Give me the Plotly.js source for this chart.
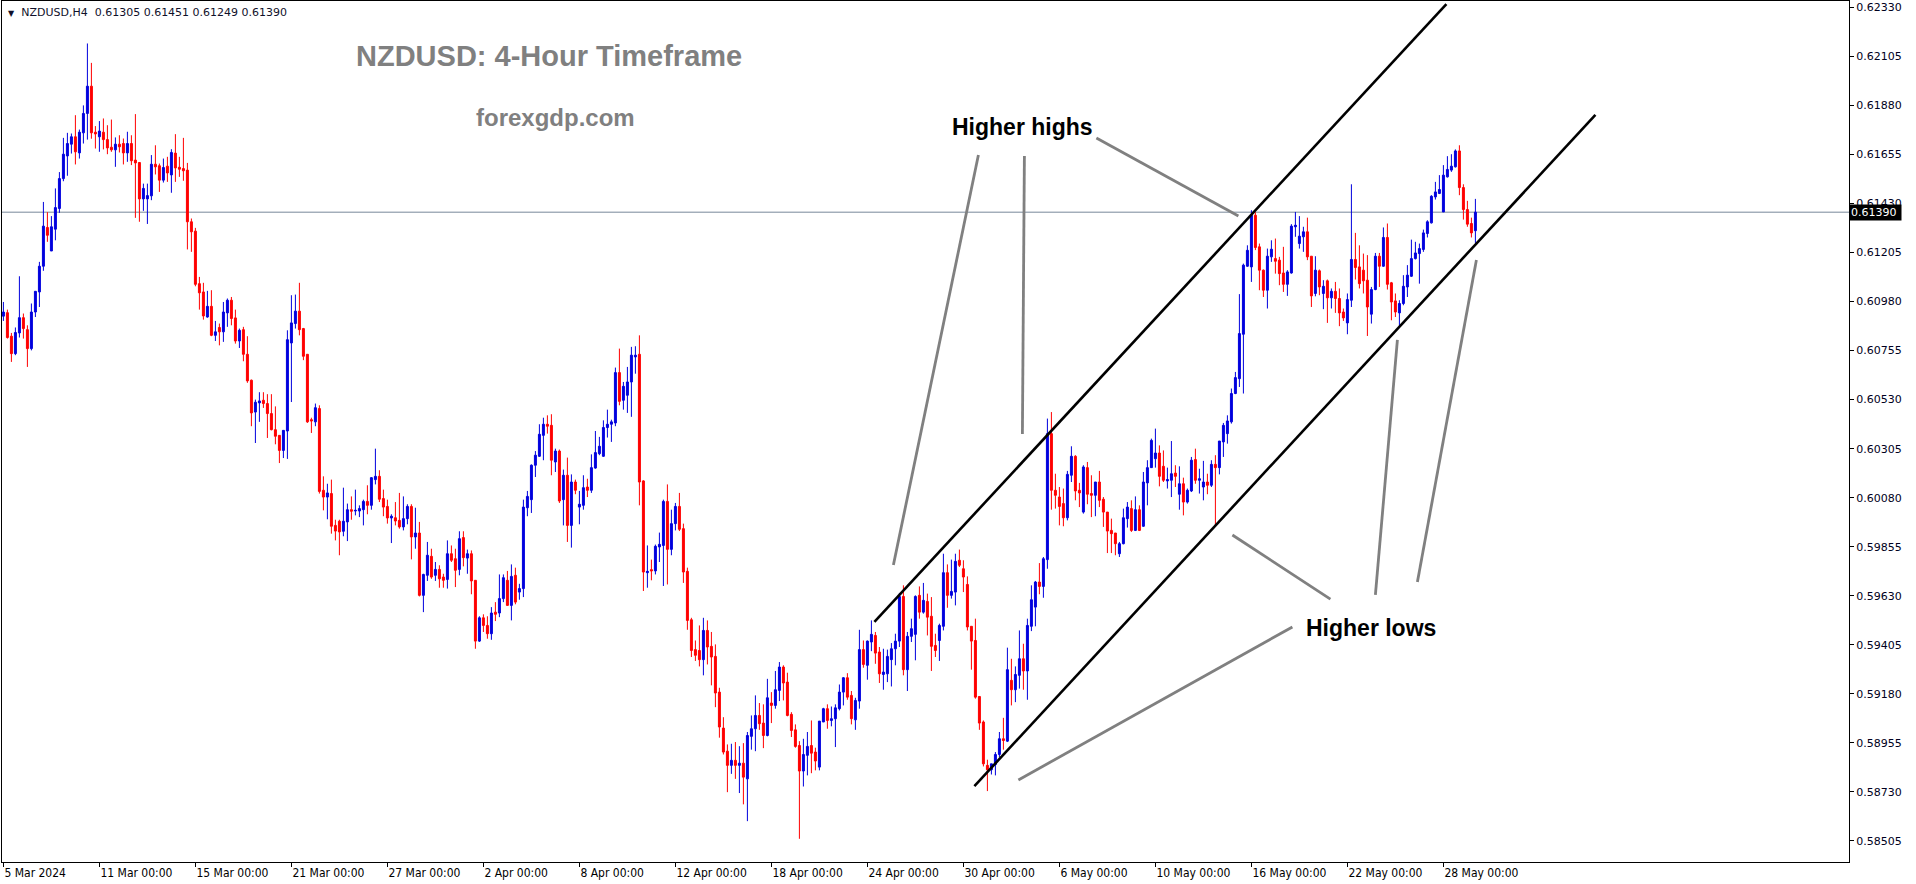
<!DOCTYPE html>
<html>
<head>
<meta charset="utf-8">
<script src="https://cdn.plot.ly/plotly-3.0.1.min.js"></script>
<style>html,body{margin:0;padding:0;background:#fff;}#chart{width:1916px;height:884px;}</style>
</head>
<body>
<div id="chart"></div>
<script>
// NZDUSD H4 candles, 5 Mar 2024 00:00 -> 29 May 2024
const opens = [
0.60913,0.60929,0.60821,0.60741,0.60836,0.60906,0.60851,0.60764,0.60932,0.61024,
0.61142,0.61320,0.61212,0.61312,0.61407,0.61544,0.61648,0.61702,0.61736,0.61662,
0.61754,0.61843,0.61968,0.61757,0.61736,0.61757,0.61723,0.61688,0.61676,0.61702,
0.61705,0.61662,0.61705,0.61629,0.61618,0.61451,0.61451,0.61465,0.61610,0.61603,
0.61537,0.61601,0.61561,0.61661,0.61596,0.61590,0.61583,0.61346,0.61303,0.61062,
0.61024,0.60909,0.60958,0.60825,0.60861,0.60841,0.60928,0.60986,0.60905,0.60799,
0.60851,0.60738,0.60619,0.60473,0.60515,0.60527,0.60512,0.60466,0.60392,0.60366,
0.60297,0.60386,0.60790,0.60879,0.60936,0.60856,0.60738,0.60438,0.60428,0.60489,
0.60114,0.60083,0.60099,0.59953,0.59972,0.59926,0.59969,0.60025,0.60019,0.60019,
0.60025,0.60063,0.60045,0.60163,0.60178,0.60076,0.60040,0.59987,0.59988,0.59976,
0.59946,0.59984,0.60040,0.59900,0.59918,0.59632,0.59724,0.59811,0.59724,0.59751,
0.59716,0.59705,0.59823,0.59800,0.59751,0.59897,0.59803,0.59823,0.59701,0.59422,
0.59529,0.59494,0.59456,0.59555,0.59551,0.59617,0.59701,0.59586,0.59724,0.59647,
0.59663,0.60034,0.60071,0.60229,0.60270,0.60366,0.60417,0.60412,0.60244,0.60294,
0.60071,0.60183,0.59953,0.60152,0.60037,0.60045,0.60129,0.60114,0.60216,0.60282,
0.60270,0.60402,0.60417,0.60423,0.60654,0.60527,0.60550,0.60611,0.60726,0.60738,
0.60157,0.59736,0.59750,0.59744,0.59854,0.59861,0.60063,0.59843,0.59961,0.60040,
0.59938,0.59742,0.59520,0.59383,0.59379,0.59337,0.59471,0.59398,0.59352,0.59188,
0.59023,0.58917,0.58852,0.58875,0.58852,0.58862,0.58790,0.58985,0.59020,0.59081,
0.59046,0.58989,0.59138,0.59127,0.59196,0.59303,0.59234,0.59086,0.59015,0.58943,
0.58826,0.58898,0.58943,0.58913,0.58844,0.59051,0.59112,0.59058,0.59066,0.59112,
0.59188,0.59254,0.59173,0.59061,0.59147,0.59383,0.59311,0.59418,0.59448,0.59372,
0.59269,0.59272,0.59337,0.59387,0.59422,0.59627,0.59291,0.59444,0.59453,0.59632,
0.59555,0.59604,0.59536,0.59402,0.59425,0.59490,0.59736,0.59632,0.59647,0.59793,
0.59754,0.59682,0.59490,0.59425,0.59168,0.59051,0.58852,0.58832,0.58856,0.58902,
0.58974,0.58963,0.59242,0.59199,0.59265,0.59341,0.59285,0.59490,0.59578,0.59693,
0.59673,0.59796,0.60374,0.60114,0.60083,0.60053,0.59988,0.60183,0.60270,0.60114,
0.60014,0.60218,0.60099,0.60091,0.60152,0.60073,0.60014,0.59930,0.59918,0.59823,
0.59869,0.59984,0.60030,0.59930,0.60025,0.59949,0.60148,0.60218,0.60259,0.60285,
0.60224,0.60157,0.60160,0.60193,0.60096,0.60144,0.60060,0.60111,0.60255,0.60160,
0.60129,0.60152,0.60137,0.60233,0.60218,0.60336,0.60374,0.60428,0.60558,0.60626,
0.60830,0.61142,0.61139,0.61376,0.61231,0.61124,0.61032,0.61185,0.61177,0.61170,
0.61111,0.61059,0.61111,0.61323,0.61246,0.61277,0.61300,0.61188,0.61017,0.61121,
0.61017,0.61075,0.60997,0.61027,0.60994,0.60932,0.60882,0.60986,0.61173,0.61139,
0.61124,0.61078,0.60922,0.61035,0.61188,0.61142,0.61274,0.61066,0.60983,0.60928,
0.60971,0.61047,0.61096,0.61177,0.61200,0.61219,0.61292,0.61341,0.61460,0.61476,
0.61391,0.61552,0.61583,0.61598,0.61671,0.61503,0.61402,0.61338,0.61305
];
const highs = [
0.60978,0.60943,0.60836,0.60861,0.61096,0.60925,0.60871,0.60971,0.61027,0.61162,
0.61437,0.61390,0.61372,0.61499,0.61574,0.61731,0.61754,0.61751,0.61835,0.61769,
0.61880,0.62164,0.62075,0.61785,0.61808,0.61820,0.61789,0.61815,0.61733,0.61743,
0.61728,0.61759,0.61743,0.61840,0.61618,0.61521,0.61521,0.61652,0.61697,0.61613,
0.61636,0.61644,0.61679,0.61748,0.61644,0.61731,0.61616,0.61361,0.61318,0.61093,
0.61066,0.61029,0.61032,0.60891,0.60879,0.60978,0.60994,0.61001,0.60943,0.60856,
0.60864,0.60821,0.60622,0.60530,0.60564,0.60564,0.60555,0.60555,0.60499,0.60366,
0.60389,0.60848,0.61009,0.61012,0.61066,0.60859,0.60738,0.60447,0.60512,0.60504,
0.60178,0.60144,0.60163,0.59979,0.59979,0.60126,0.60053,0.60086,0.60117,0.60045,
0.60071,0.60137,0.60175,0.60305,0.60206,0.60117,0.60071,0.60004,0.60060,0.60102,
0.60086,0.60050,0.60050,0.60034,0.59969,0.59731,0.59877,0.59846,0.59785,0.59770,
0.59731,0.59884,0.59861,0.59846,0.59926,0.59926,0.59842,0.59838,0.59701,0.59536,
0.59545,0.59536,0.59578,0.59601,0.59728,0.59728,0.59744,0.59774,0.59759,0.59685,
0.60071,0.60111,0.60233,0.60294,0.60417,0.60447,0.60458,0.60463,0.60305,0.60301,
0.60209,0.60264,0.60187,0.60163,0.60111,0.60183,0.60167,0.60279,0.60386,0.60359,
0.60435,0.60484,0.60438,0.60677,0.60764,0.60611,0.60680,0.60772,0.60775,0.60825,
0.60160,0.59861,0.59796,0.59865,0.59920,0.60071,0.60141,0.60025,0.60056,0.60102,
0.59961,0.59759,0.59529,0.59425,0.59494,0.59529,0.59517,0.59464,0.59407,0.59208,
0.59073,0.58948,0.58951,0.58959,0.58940,0.58954,0.59005,0.59081,0.59173,0.59138,
0.59132,0.59249,0.59188,0.59285,0.59326,0.59311,0.59277,0.59096,0.59040,0.58963,
0.58974,0.59005,0.59058,0.58933,0.59055,0.59116,0.59132,0.59122,0.59132,0.59223,
0.59257,0.59275,0.59193,0.59162,0.59474,0.59425,0.59425,0.59517,0.59464,0.59395,
0.59387,0.59383,0.59413,0.59456,0.59643,0.59678,0.59464,0.59525,0.59632,0.59673,
0.59689,0.59640,0.59624,0.59456,0.59502,0.59823,0.59774,0.59796,0.59823,0.59842,
0.59793,0.59719,0.59490,0.59525,0.59168,0.59058,0.58878,0.58859,0.58913,0.59005,
0.59070,0.59392,0.59341,0.59306,0.59471,0.59410,0.59525,0.59678,0.59698,0.59780,
0.59808,0.60443,0.60473,0.60190,0.60129,0.60122,0.60203,0.60316,0.60275,0.60148,
0.60229,0.60244,0.60183,0.60152,0.60203,0.60083,0.60014,0.59984,0.59918,0.59877,
0.60030,0.60060,0.60068,0.60086,0.60045,0.60198,0.60252,0.60351,0.60397,0.60320,
0.60297,0.60218,0.60340,0.60229,0.60224,0.60172,0.60122,0.60267,0.60305,0.60213,
0.60249,0.60190,0.60252,0.60275,0.60340,0.60423,0.60458,0.60581,0.60657,0.61014,
0.61154,0.61238,0.61399,0.61390,0.61246,0.61127,0.61223,0.61261,0.61269,0.61185,
0.61231,0.61124,0.61335,0.61391,0.61372,0.61323,0.61365,0.61188,0.61188,0.61127,
0.61078,0.61081,0.61040,0.61070,0.61040,0.60948,0.61017,0.61518,0.61295,0.61238,
0.61200,0.61193,0.61047,0.61203,0.61203,0.61320,0.61338,0.61070,0.61017,0.60986,
0.61101,0.61147,0.61264,0.61254,0.61246,0.61310,0.61353,0.61468,0.61529,0.61560,
0.61606,0.61647,0.61656,0.61678,0.61697,0.61518,0.61442,0.61365,0.61451
];
const lows = [
0.60891,0.60810,0.60703,0.60734,0.60815,0.60810,0.60680,0.60756,0.60909,0.60955,
0.61121,0.61254,0.61212,0.61261,0.61387,0.61532,0.61557,0.61659,0.61609,0.61636,
0.61705,0.61723,0.61727,0.61682,0.61667,0.61678,0.61656,0.61667,0.61598,0.61664,
0.61609,0.61621,0.61606,0.61364,0.61346,0.61396,0.61336,0.61445,0.61563,0.61483,
0.61526,0.61529,0.61479,0.61529,0.61552,0.61534,0.61219,0.61208,0.61050,0.60943,
0.60897,0.60906,0.60821,0.60799,0.60779,0.60795,0.60864,0.60871,0.60787,0.60767,
0.60706,0.60607,0.60408,0.60331,0.60428,0.60492,0.60354,0.60389,0.60325,0.60239,
0.60262,0.60258,0.60519,0.60856,0.60825,0.60711,0.60423,0.60377,0.60408,0.60099,
0.60022,0.59981,0.59915,0.59884,0.59816,0.59903,0.59881,0.59979,0.59999,0.59991,
0.59953,0.60004,0.60025,0.60141,0.60060,0.59995,0.59961,0.59872,0.59953,0.59938,
0.59930,0.59958,0.59797,0.59846,0.59627,0.59555,0.59698,0.59708,0.59698,0.59667,
0.59667,0.59663,0.59785,0.59670,0.59724,0.59765,0.59731,0.59637,0.59387,0.59418,
0.59464,0.59433,0.59428,0.59514,0.59532,0.59601,0.59586,0.59517,0.59591,0.59612,
0.59624,0.59995,0.60010,0.60175,0.60267,0.60252,0.60374,0.60183,0.60198,0.60056,
0.59953,0.59877,0.59851,0.60096,0.59958,0.60025,0.60083,0.60102,0.60213,0.60275,
0.60267,0.60356,0.60336,0.60408,0.60504,0.60484,0.60469,0.60451,0.60649,0.60045,
0.59652,0.59667,0.59701,0.59728,0.59785,0.59675,0.59682,0.59816,0.59930,0.59927,
0.59689,0.59474,0.59349,0.59331,0.59306,0.59265,0.59315,0.59219,0.59119,0.58979,
0.58902,0.58729,0.58813,0.58790,0.58725,0.58673,0.58596,0.58924,0.58917,0.59015,
0.58931,0.58985,0.59046,0.59112,0.59147,0.59150,0.59077,0.58982,0.58933,0.58515,
0.58755,0.58806,0.58816,0.58829,0.58829,0.59051,0.59020,0.59031,0.58936,0.59104,
0.59127,0.59153,0.59040,0.59015,0.59112,0.59300,0.59245,0.59376,0.59318,0.59230,
0.59199,0.59234,0.59214,0.59311,0.59395,0.59265,0.59193,0.59418,0.59334,0.59525,
0.59548,0.59448,0.59285,0.59349,0.59331,0.59471,0.59575,0.59617,0.59586,0.59762,
0.59647,0.59471,0.59291,0.59158,0.59015,0.58847,0.58734,0.58810,0.58806,0.58890,
0.58924,0.58959,0.59127,0.59142,0.59204,0.59199,0.59153,0.59468,0.59490,0.59637,
0.59621,0.59754,0.60025,0.60030,0.59953,0.59949,0.59976,0.60152,0.60068,0.60037,
0.60007,0.60050,0.59991,0.59995,0.60037,0.59946,0.59826,0.59826,0.59816,0.59808,
0.59866,0.59943,0.59923,0.59927,0.59927,0.59946,0.60045,0.60218,0.60218,0.60132,
0.60152,0.60122,0.60083,0.60129,0.60025,0.59999,0.60053,0.60106,0.60144,0.60099,
0.60068,0.60096,0.60129,0.59953,0.60187,0.60267,0.60328,0.60420,0.60555,0.60588,
0.60558,0.61139,0.61070,0.61216,0.61032,0.61001,0.60948,0.61162,0.61108,0.61055,
0.61024,0.61006,0.61108,0.61277,0.61223,0.61208,0.61170,0.60955,0.61004,0.61009,
0.60945,0.60882,0.60948,0.60928,0.60867,0.60891,0.60830,0.60955,0.61081,0.61040,
0.61017,0.60822,0.60879,0.61032,0.61047,0.61139,0.61035,0.60894,0.60909,0.60864,
0.60963,0.61001,0.61093,0.61173,0.61062,0.61208,0.61274,0.61338,0.61448,0.61473,
0.61391,0.61549,0.61575,0.61595,0.61468,0.61356,0.61323,0.61274,0.61249
];
const closes = [
0.60932,0.60815,0.60741,0.60838,0.60906,0.60856,0.60764,0.60932,0.61027,0.61142,
0.61326,0.61284,0.61323,0.61411,0.61544,0.61656,0.61705,0.61736,0.61667,0.61757,
0.61843,0.61968,0.61754,0.61749,0.61762,0.61723,0.61685,0.61676,0.61702,0.61690,
0.61662,0.61705,0.61626,0.61616,0.61451,0.61499,0.61466,0.61610,0.61598,0.61537,
0.61595,0.61570,0.61664,0.61593,0.61587,0.61580,0.61346,0.61300,0.61059,0.61020,
0.60914,0.60958,0.60825,0.60841,0.60841,0.60932,0.60986,0.60902,0.60799,0.60848,
0.60738,0.60616,0.60469,0.60518,0.60524,0.60512,0.60466,0.60392,0.60362,0.60297,
0.60389,0.60805,0.60882,0.60936,0.60851,0.60729,0.60428,0.60432,0.60493,0.60109,
0.60083,0.60102,0.59949,0.59927,0.59923,0.59972,0.60025,0.60018,0.60022,0.60030,
0.60063,0.60045,0.60172,0.60178,0.60073,0.60037,0.59987,0.59995,0.59973,0.59946,
0.59984,0.60040,0.59900,0.59918,0.59632,0.59728,0.59816,0.59716,0.59751,0.59708,
0.59701,0.59823,0.59793,0.59747,0.59892,0.59805,0.59823,0.59698,0.59422,0.59529,
0.59494,0.59456,0.59551,0.59545,0.59617,0.59713,0.59586,0.59719,0.59601,0.59663,
0.60037,0.60086,0.60229,0.60275,0.60371,0.60417,0.60408,0.60252,0.60294,0.60065,
0.60183,0.59953,0.60152,0.60114,0.60050,0.60126,0.60114,0.60218,0.60287,0.60316,
0.60402,0.60417,0.60428,0.60654,0.60522,0.60591,0.60611,0.60734,0.60734,0.60152,
0.59739,0.59742,0.59744,0.59857,0.59866,0.60063,0.59843,0.59961,0.60040,0.59935,
0.59739,0.59517,0.59379,0.59357,0.59337,0.59471,0.59395,0.59349,0.59184,0.59028,
0.58913,0.58852,0.58875,0.58852,0.58862,0.58798,0.58989,0.59020,0.59081,0.59043,
0.58989,0.59162,0.59127,0.59199,0.59303,0.59230,0.59081,0.59012,0.58939,0.58826,
0.58902,0.58939,0.58908,0.58872,0.59055,0.59112,0.59058,0.59066,0.59116,0.59188,
0.59254,0.59165,0.59066,0.59150,0.59383,0.59315,0.59422,0.59453,0.59367,0.59272,
0.59280,0.59352,0.59387,0.59422,0.59627,0.59291,0.59444,0.59479,0.59627,0.59555,
0.59609,0.59532,0.59398,0.59379,0.59494,0.59736,0.59632,0.59650,0.59788,0.59770,
0.59716,0.59487,0.59422,0.59165,0.59046,0.58859,0.58832,0.58859,0.58902,0.58974,
0.58966,0.59291,0.59199,0.59269,0.59341,0.59285,0.59494,0.59612,0.59693,0.59673,
0.59800,0.60374,0.60114,0.60091,0.60040,0.59988,0.60187,0.60270,0.60111,0.60102,
0.60221,0.60096,0.60091,0.60152,0.60068,0.60014,0.59927,0.59915,0.59869,0.59869,
0.59988,0.60037,0.59930,0.60025,0.59930,0.60152,0.60218,0.60343,0.60285,0.60178,
0.60160,0.60163,0.60190,0.60178,0.60144,0.60060,0.60114,0.60252,0.60160,0.60167,
0.60152,0.60137,0.60233,0.60218,0.60340,0.60412,0.60432,0.60558,0.60631,0.60833,
0.61147,0.61215,0.61376,0.61228,0.61124,0.61032,0.61188,0.61220,0.61165,0.61108,
0.61059,0.61116,0.61326,0.61330,0.61280,0.61300,0.61185,0.61006,0.61124,0.61047,
0.61050,0.60997,0.61027,0.60994,0.60928,0.60905,0.60989,0.61173,0.61136,0.61062,
0.61075,0.60955,0.61035,0.61188,0.61142,0.61274,0.61059,0.60978,0.60932,0.60971,
0.61050,0.61101,0.61177,0.61203,0.61223,0.61295,0.61346,0.61463,0.61483,0.61494,
0.61560,0.61586,0.61601,0.61671,0.61503,0.61402,0.61335,0.61295,0.61390
];

// bar index of each time label (every 24 H4 bars) and its text
const timeTickBars = [0,24,48,72,96,120,144,168,192,216,240,264,288,312,336,360];
const timeTickLabels = ["5 Mar 2024","11 Mar 00:00","15 Mar 00:00","21 Mar 00:00","27 Mar 00:00",
  "2 Apr 00:00","8 Apr 00:00","12 Apr 00:00","18 Apr 00:00","24 Apr 00:00","30 Apr 00:00",
  "6 May 00:00","10 May 00:00","16 May 00:00","22 May 00:00","28 May 00:00"];
const priceTicks = [0.58505,0.58730,0.58955,0.59180,0.59405,0.59630,0.59855,0.60080,0.60305,
  0.60530,0.60755,0.60980,0.61205,0.61430,0.61655,0.61880,0.62105,0.62330];
const lastPrice = 0.61390;
const header = ["NZDUSD,H4", "0.61305", "0.61451", "0.61249", "0.61390"];

// drawn trend channel (bar index, price) pairs
const channelLines = [
  [217.75, 0.59510, 360.75, 0.62345],
  [242.75, 0.58757, 398.00, 0.61836]
];
const pointerLines = [
  [243.75, 0.61652, 222.50, 0.59771],
  [255.25, 0.61648, 254.75, 0.60372],
  [273.25, 0.61730, 308.75, 0.61372],
  [331.75, 0.59615, 307.25, 0.59909],
  [343.00, 0.59634, 348.50, 0.60804],
  [353.50, 0.59693, 368.25, 0.61171],
  [322.25, 0.59487, 253.75, 0.58785]
];

const bars = opens.map((_, i) => i);
const BLUE = '#0000dd', RED = '#ff0000';

const trace = {
  type: 'candlestick',
  x: bars, open: opens, high: highs, low: lows, close: closes,
  increasing: {line: {color: BLUE, width: 1}, fillcolor: BLUE},
  decreasing: {line: {color: RED, width: 1}, fillcolor: RED},
  whiskerwidth: 0,
  hoverinfo: 'skip',
  showlegend: false
};

const shapes = [];
shapes.push({type: 'line', xref: 'paper', x0: 0, x1: 1, yref: 'y', y0: lastPrice, y1: lastPrice,
  line: {color: '#778899', width: 1}, layer: 'below'});
channelLines.forEach(l => shapes.push({type: 'line', xref: 'x', yref: 'y',
  x0: l[0], y0: l[1], x1: l[2], y1: l[3], line: {color: '#000000', width: 2.6}}));
pointerLines.forEach(l => shapes.push({type: 'line', xref: 'x', yref: 'y',
  x0: l[0], y0: l[1], x1: l[2], y1: l[3], line: {color: '#808080', width: 2.8}}));

const W = 1916, H = 884, L = 2, R = 1849, T = 1, B = 862;
const px = x => (x - L) / (R - L);
const py = y => 1 - (y - T) / (B - T);
const NB = '\u00a0';

const annotations = [
  {xref: 'paper', yref: 'paper', x: px(6), y: py(12), xanchor: 'left', yanchor: 'middle', showarrow: false,
   text: "<span style='font-size:8px'>▼</span>" + NB + NB + header[0] + NB + NB + header.slice(1).join(NB),
   font: {family: 'DejaVu Sans, Verdana, sans-serif', size: 11, color: '#10102a'}},
  {xref: 'paper', yref: 'paper', x: px(549), y: py(56), xanchor: 'center', yanchor: 'middle', showarrow: false,
   text: '<b>NZDUSD: 4-Hour Timeframe</b>', font: {family: 'Liberation Sans, Arial, sans-serif', size: 29, color: '#808080'}},
  {xref: 'paper', yref: 'paper', x: px(555), y: py(117), xanchor: 'center', yanchor: 'middle', showarrow: false,
   text: '<b>forexgdp.com</b>', font: {family: 'Liberation Sans, Arial, sans-serif', size: 24, color: '#808080'}},
  {xref: 'paper', yref: 'paper', x: px(1022), y: py(127), xanchor: 'center', yanchor: 'middle', showarrow: false,
   text: '<b>Higher highs</b>', font: {family: 'Liberation Sans, Arial, sans-serif', size: 23, color: '#000000'}},
  {xref: 'paper', yref: 'paper', x: px(1371), y: py(628), xanchor: 'center', yanchor: 'middle', showarrow: false,
   text: '<b>Higher lows</b>', font: {family: 'Liberation Sans, Arial, sans-serif', size: 23, color: '#000000'}},
  {xref: 'paper', yref: 'y', x: 1, y: lastPrice, xanchor: 'left', yanchor: 'middle', showarrow: false,
   text: lastPrice.toFixed(5) + NB, bgcolor: '#000000', borderpad: 1, xshift: 0,
   font: {family: 'DejaVu Sans, Verdana, sans-serif', size: 11, color: '#ffffff'}}
];

const layout = {
  width: W, height: H,
  margin: {l: L, r: W - R, t: T, b: H - B, pad: 0},
  paper_bgcolor: '#ffffff', plot_bgcolor: '#ffffff',
  showlegend: false,
  xaxis: {
    type: 'linear', range: [-0.35, 461.4], fixedrange: true,
    rangeslider: {visible: false},
    tickmode: 'array', tickvals: timeTickBars, ticktext: timeTickLabels,
    ticks: 'outside', ticklen: 4, tickcolor: '#000', tickwidth: 1,
    ticklabelposition: 'outside right',
    tickfont: {family: 'DejaVu Sans Condensed, Liberation Sans Narrow, Liberation Sans, sans-serif', size: 12, color: '#000'},
    showline: true, mirror: true, linecolor: '#000', linewidth: 1,
    showgrid: false, zeroline: false
  },
  yaxis: {
    side: 'right', range: [0.584086, 0.623589], fixedrange: true,
    tickmode: 'array', tickvals: priceTicks, ticktext: priceTicks.map(v => v.toFixed(5)),
    ticks: 'outside', ticklen: 4, tickcolor: '#000', tickwidth: 1,
    tickfont: {family: 'DejaVu Sans, Verdana, sans-serif', size: 11, color: '#000020'},
    showline: true, mirror: true, linecolor: '#000', linewidth: 1,
    showgrid: false, zeroline: false
  },
  shapes: shapes,
  annotations: annotations
};

Plotly.newPlot('chart', [trace], layout, {displayModeBar: false, staticPlot: true});
</script>
</body>
</html>
